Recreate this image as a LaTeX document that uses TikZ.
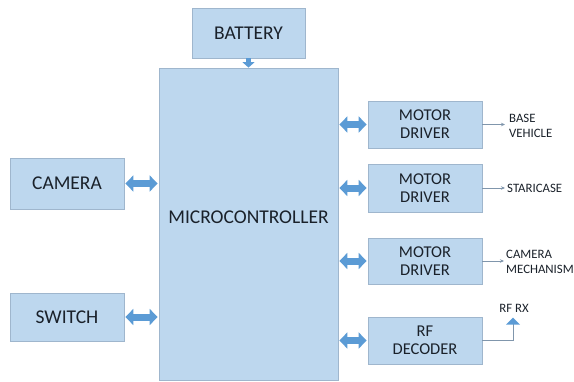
\documentclass[tikz,border=0pt]{standalone}
\usepackage{fontspec}
\setmainfont{Carlito}
\usetikzlibrary{arrows.meta}
\definecolor{boxfill}{HTML}{BDD7EE}
\definecolor{boxline}{HTML}{9FB6CD}
\definecolor{arrblue}{HTML}{5B9BD5}
\definecolor{thinline}{HTML}{8096AC}
\definecolor{txt}{HTML}{1A212A}
\tikzset{
  blk/.style={draw=boxline, fill=boxfill, line width=0.8pt, inner sep=0pt, align=center, text=txt},
  bigtxt/.style={font=\fontsize{19.5}{22}\selectfont},
  midtxt/.style={font=\fontsize{16.5}{18}\selectfont},
  smalltxt/.style={font=\fontsize{12.8}{15}\selectfont, text=txt, inner sep=0pt, align=left},
  dbl/.style={draw=arrblue, line width=7pt, shorten <=1pt, shorten >=1pt,
    {Triangle[length=8pt,width=16pt]}-{Triangle[length=8pt,width=16pt]}},
  thinarr/.style={draw=thinline, line width=0.7pt, -{Stealth[length=4pt,width=3.5pt]}},
}
\begin{document}
\begin{tikzpicture}[x=1pt,y=-1pt]
\useasboundingbox (0,0) rectangle (574,381);
% blocks
\node[blk, bigtxt, minimum width=113pt, minimum height=50pt] (bat) at (248.5,33) {BATTERY};
\node[blk, minimum width=179pt, minimum height=312pt] (mc) at (248.5,224) {};
\node[bigtxt, text=txt] (mclabel) at (248.5,217) {MICROCONTROLLER};
\node[blk, bigtxt, minimum width=114pt, minimum height=51pt] (cam) at (67,183.5) {CAMERA};
\node[blk, bigtxt, minimum width=114pt, minimum height=48pt] (sw) at (67,317) {SWITCH};
\node[blk, midtxt, minimum width=114pt, minimum height=47pt] (md1) at (425,124.5) {MOTOR\\DRIVER};
\node[blk, midtxt, minimum width=114pt, minimum height=48pt] (md2) at (425,188) {MOTOR\\DRIVER};
\node[blk, midtxt, minimum width=114pt, minimum height=46pt] (md3) at (425,261) {MOTOR\\DRIVER};
\node[blk, midtxt, minimum width=114pt, minimum height=47pt] (rf) at (425,340.5) {RF\\DECODER};
% output labels
\node[smalltxt, anchor=west] (basev) at (509,126) {BASE\\VEHICLE};
\node[smalltxt, anchor=west] (stair) at (507,188) {STARICASE};
\node[smalltxt, anchor=west] (cammech) at (506,261.5) {CAMERA\\MECHANISM};
\node[smalltxt, anchor=center] (rfrx) at (514,308) {RF RX};
% battery arrow
\draw[draw=arrblue, line width=5pt, -{Triangle[length=5.5pt,width=12pt]}] (bat.south) -- (mc.north);
% double arrows
\draw[dbl] (cam.east) -- (mc.west |- cam.east);
\draw[dbl] (sw.east) -- (mc.west |- sw.east);
\draw[dbl] (mc.east |- md1.west) -- (md1.west);
\draw[dbl] (mc.east |- md2.west) -- (md2.west);
\draw[dbl] (mc.east |- md3.west) -- (md3.west);
\draw[dbl] (mc.east |- rf.west) -- (rf.west);
% thin output arrows
\coordinate (e1) at (505,124.5);
\coordinate (e2) at (505,188);
\coordinate (e3) at (504,261);
\coordinate (rfant) at (513,318);
\draw[thinarr] (md1.east) -- (e1);
\draw[thinarr] (md2.east) -- (e2);
\draw[thinarr] (md3.east) -- (e3);
\draw[draw=thinline, line width=0.7pt] (rf.east) -- (rfant |- rf.east) -- ++(0,-17);
\fill[arrblue] (506,324.5) -- (520,324.5) -- (513,317.5) -- cycle;
\end{tikzpicture}
\end{document}
